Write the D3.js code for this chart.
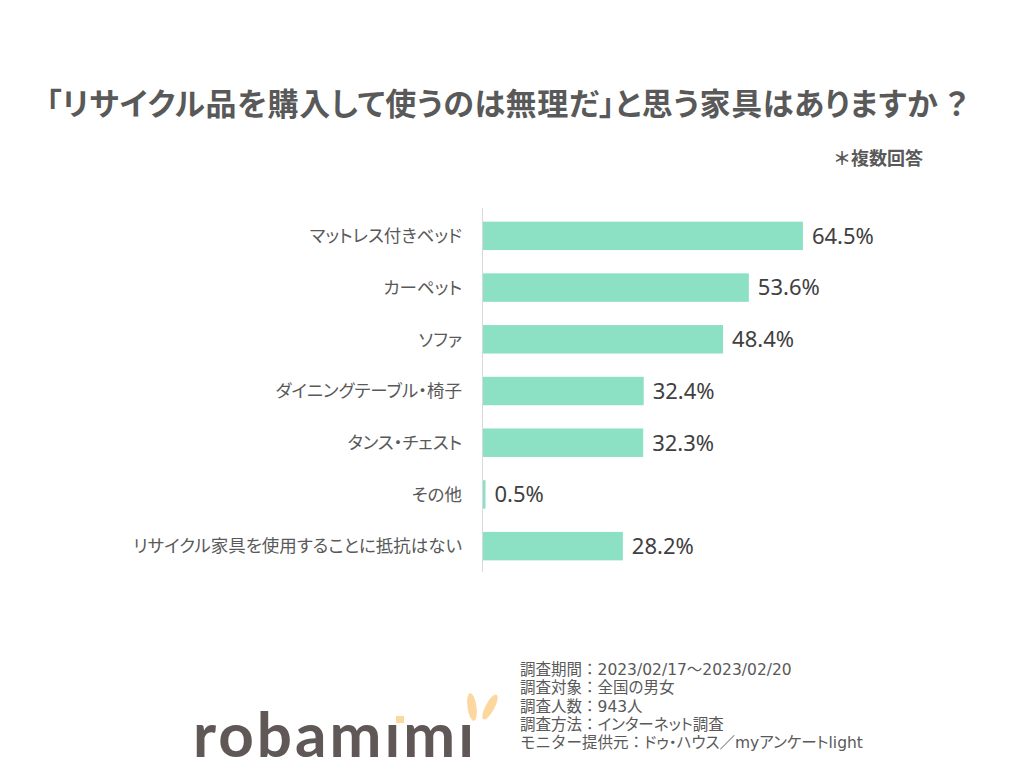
<!DOCTYPE html>
<html>
<head>
<meta charset="utf-8">
<script src="https://cdn.jsdelivr.net/npm/d3@7"></script>
<style>
  html, body { margin: 0; padding: 0; background: #fff; }
  svg { display: block; font-family: "Noto Sans CJK JP", "Noto Sans", sans-serif; }
  .palt { font-feature-settings: "palt" 1; }
</style>
</head>
<body>
<svg id="chart" width="1024" height="769"></svg>
<script>
const categories = [
  "マットレス付きベッド",
  "カーペット",
  "ソファ",
  "ダイニングテーブル・椅子",
  "タンス・チェスト",
  "その他",
  "リサイクル家具を使用することに抵抗はない"
];
const values = [64.5, 53.6, 48.4, 32.4, 32.3, 0.5, 28.2];
const footerLines = [
  "調査期間：2023/02/17～2023/02/20",
  "調査対象：全国の男女",
  "調査人数：943人",
  "調査方法：インターネット調査",
  "モニター提供元：ドゥ・ハウス／myアンケートlight"
];

const svg = d3.select("#chart");

// title
svg.append("text")
  .attr("class", "palt")
  .attr("x", 46)
  .attr("y", 115)
  .attr("font-size", 31)
  .attr("font-weight", "bold")
  .attr("letter-spacing", 0.6)
  .attr("fill", "#595959")
  .text("「リサイクル品を購入して使うのは無理だ」と思う家具はありますか ？");

svg.append("text")
  .attr("x", 923)
  .attr("y", 165)
  .attr("text-anchor", "end")
  .attr("font-size", 18)
  .attr("font-weight", "bold")
  .attr("fill", "#595959")
  .text("＊複数回答");

const x = d3.scaleLinear()
  .domain([0, 100])
  .range([483, 979]);

const y = d3.scaleBand()
  .domain(categories)
  .range([210, 572])
  .paddingInner(0.45)
  .paddingOuter(0.225);

// bars
svg.selectAll(".bar")
    .data(values)
  .enter().append("rect")
    .attr("class", "bar")
    .attr("x", x(0))
    .attr("y", (d, i) => y(categories[i]))
    .attr("width", d => x(d) - x(0))
    .attr("height", y.bandwidth())
    .attr("fill", "#8ce0c3");

// vertical axis line
svg.append("line")
  .attr("x1", x(0) - 0.5).attr("x2", x(0) - 0.5)
  .attr("y1", 208).attr("y2", 572)
  .attr("stroke", "#d9d9d9")
  .attr("stroke-width", 1);

// category labels
svg.selectAll(".cat")
    .data(categories)
  .enter().append("text")
    .attr("class", "cat palt")
    .attr("x", 462)
    .attr("y", d => y(d) + y.bandwidth() / 2)
    .attr("dy", "0.36em")
    .attr("text-anchor", "end")
    .attr("font-size", 17.5)
    .attr("fill", "#595959")
    .text(d => d);

// value labels
svg.selectAll(".val")
    .data(values)
  .enter().append("text")
    .attr("class", "val")
    .attr("x", d => x(d) + 9)
    .attr("y", (d, i) => y(categories[i]) + y.bandwidth() / 2)
    .attr("dy", "0.36em")
    .attr("font-family", "'Noto Sans', sans-serif")
    .attr("font-size", 22)
    .attr("fill", "#404040")
    .text(d => d.toFixed(1) + "%");

// survey info: label part keeps full-width colon, the rest is set proportional
const info = svg.append("g")
  .selectAll("text")
  .data(footerLines)
  .enter().append("text")
    .attr("x", 520)
    .attr("y", (d, i) => 675 + i * 18.3)
    .attr("font-family", "'DejaVu Sans', 'Noto Sans CJK JP', sans-serif")
    .attr("font-size", 15.5)
    .attr("fill", "#595959");
info.append("tspan")
  .text(d => d.slice(0, d.indexOf("：") + 1));
info.append("tspan")
  .attr("class", "palt")
  .text(d => d.slice(d.indexOf("：") + 1));

// logo
const logo = svg.append("g");
logo.append("text")
  .attr("x", 193)
  .attr("y", 757)
  .attr("font-family", "Lato, sans-serif")
  .attr("font-size", 62)
  .attr("font-weight", "bold")
  .attr("letter-spacing", 3)
  .attr("fill", "#605856")
  .text("robamımı");
logo.append("rect")
  .attr("x", 396).attr("y", 716)
  .attr("width", 8).attr("height", 7)
  .attr("fill", "#fcd79e");
logo.append("ellipse")
  .attr("cx", 0).attr("cy", 0).attr("rx", 4.5).attr("ry", 14)
  .attr("transform", "translate(472,707) rotate(-8)")
  .attr("fill", "#fcd79e");
logo.append("ellipse")
  .attr("cx", 0).attr("cy", 0).attr("rx", 4.5).attr("ry", 14)
  .attr("transform", "translate(490,707) rotate(28)")
  .attr("fill", "#fcd79e");
</script>
</body>
</html>
